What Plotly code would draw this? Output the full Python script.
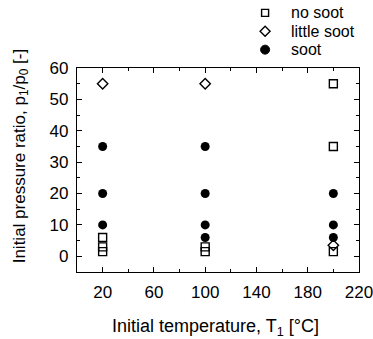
import plotly.graph_objects as go

# Experimental conditions: initial temperature T1 [°C] and pressure ratio p1/p0
no_soot_T = [20, 20, 20, 100, 100, 200, 200, 200]
no_soot_p = [1.5, 3, 6, 1.5, 3, 1.5, 35, 55]

little_soot_T = [20, 100, 200]
little_soot_p = [55, 55, 3.5]

soot_T = [20, 20, 20, 100, 100, 100, 100, 200, 200, 200]
soot_p = [10, 20, 35, 6, 10, 20, 35, 6, 10, 20]

series_names = ["no soot", "little soot", "soot"]

x_ticks = [20, 60, 100, 140, 180, 220]
y_ticks = [0, 10, 20, 30, 40, 50, 60]

FONT = "Liberation Sans, Arial, sans-serif"
font = dict(family=FONT, color="black")

fig = go.Figure()
fig.add_trace(go.Scatter(
    x=no_soot_T, y=no_soot_p, mode="markers", name=series_names[0],
    marker=dict(symbol="square-open", size=8, color="black", line=dict(width=1.4)),
))
fig.add_trace(go.Scatter(
    x=little_soot_T, y=little_soot_p, mode="markers", name=series_names[1],
    marker=dict(symbol="diamond-open", size=8, color="black", line=dict(width=1.4)),
))
fig.add_trace(go.Scatter(
    x=soot_T, y=soot_p, mode="markers", name=series_names[2],
    marker=dict(symbol="circle", size=9, color="black"),
))

axis_common = dict(
    showgrid=False, zeroline=False, showline=True, linecolor="black", linewidth=1.2,
    mirror="allticks", ticks="inside", ticklen=5, tickwidth=1.2, tickcolor="black",
    tickfont=dict(size=17, **font), ticklabelstandoff=4, ticklabeloverflow="allow",
    automargin=False,
)

fig.update_xaxes(
    range=[0, 220.0001], tickvals=x_ticks,
    minor=dict(tickvals=[0, 40, 80, 120, 160, 200], ticks="inside", ticklen=3,
               tickwidth=1, tickcolor="black"),
    **axis_common,
)
fig.update_yaxes(
    range=[-5, 60.0001], tickvals=y_ticks,
    minor=dict(tickvals=[-5, 5, 15, 25, 35, 45, 55], ticks="inside", ticklen=3,
               tickwidth=1, tickcolor="black"),
    **axis_common,
)

# Axis titles
annotations = [
    dict(text="Initial temperature, T<sub>1</sub> [°C]", xref="paper", yref="paper",
         x=0.49, y=-0.27, xanchor="center", yanchor="middle", showarrow=False,
         font=dict(size=18, **font)),
    dict(text="Initial pressure ratio, p<sub>1</sub>/p<sub>0</sub> [-]", xref="paper",
         yref="paper", x=-0.2, y=0.57, xanchor="center", yanchor="middle",
         textangle=-90, showarrow=False, font=dict(size=17, **font)),
]

# Compact legend above the plot area: key symbols + labels
legend_x = 0.667
legend_text_x = 0.752
legend_rows = [1.27, 1.18, 1.09]
shapes = []
# open square
shapes.append(dict(type="rect", xref="paper", yref="paper", xsizemode="pixel",
                   ysizemode="pixel", xanchor=legend_x, yanchor=legend_rows[0],
                   x0=-3.5, x1=3.5, y0=-3.5, y1=3.5,
                   line=dict(color="black", width=1.4), fillcolor="white"))
# open diamond
shapes.append(dict(type="path", xref="paper", yref="paper", xsizemode="pixel",
                   ysizemode="pixel", xanchor=legend_x, yanchor=legend_rows[1],
                   path="M -5 0 L 0 5 L 5 0 L 0 -5 Z",
                   line=dict(color="black", width=1.4), fillcolor="white"))
# filled circle
shapes.append(dict(type="circle", xref="paper", yref="paper", xsizemode="pixel",
                   ysizemode="pixel", xanchor=legend_x, yanchor=legend_rows[2],
                   x0=-4.5, x1=4.5, y0=-4.5, y1=4.5,
                   line=dict(color="black", width=1), fillcolor="black"))
for name, row in zip(series_names, legend_rows):
    annotations.append(dict(text=name, xref="paper", yref="paper", x=legend_text_x,
                            y=row, xanchor="left", yanchor="middle", showarrow=False,
                            font=dict(size=16, **font)))

fig.update_layout(
    width=373, height=339,
    margin=dict(l=77, r=14, t=68, b=67),
    paper_bgcolor="white", plot_bgcolor="white",
    showlegend=False,
    annotations=annotations,
    shapes=shapes,
    font=font,
)

fig.write_html("out.html")
